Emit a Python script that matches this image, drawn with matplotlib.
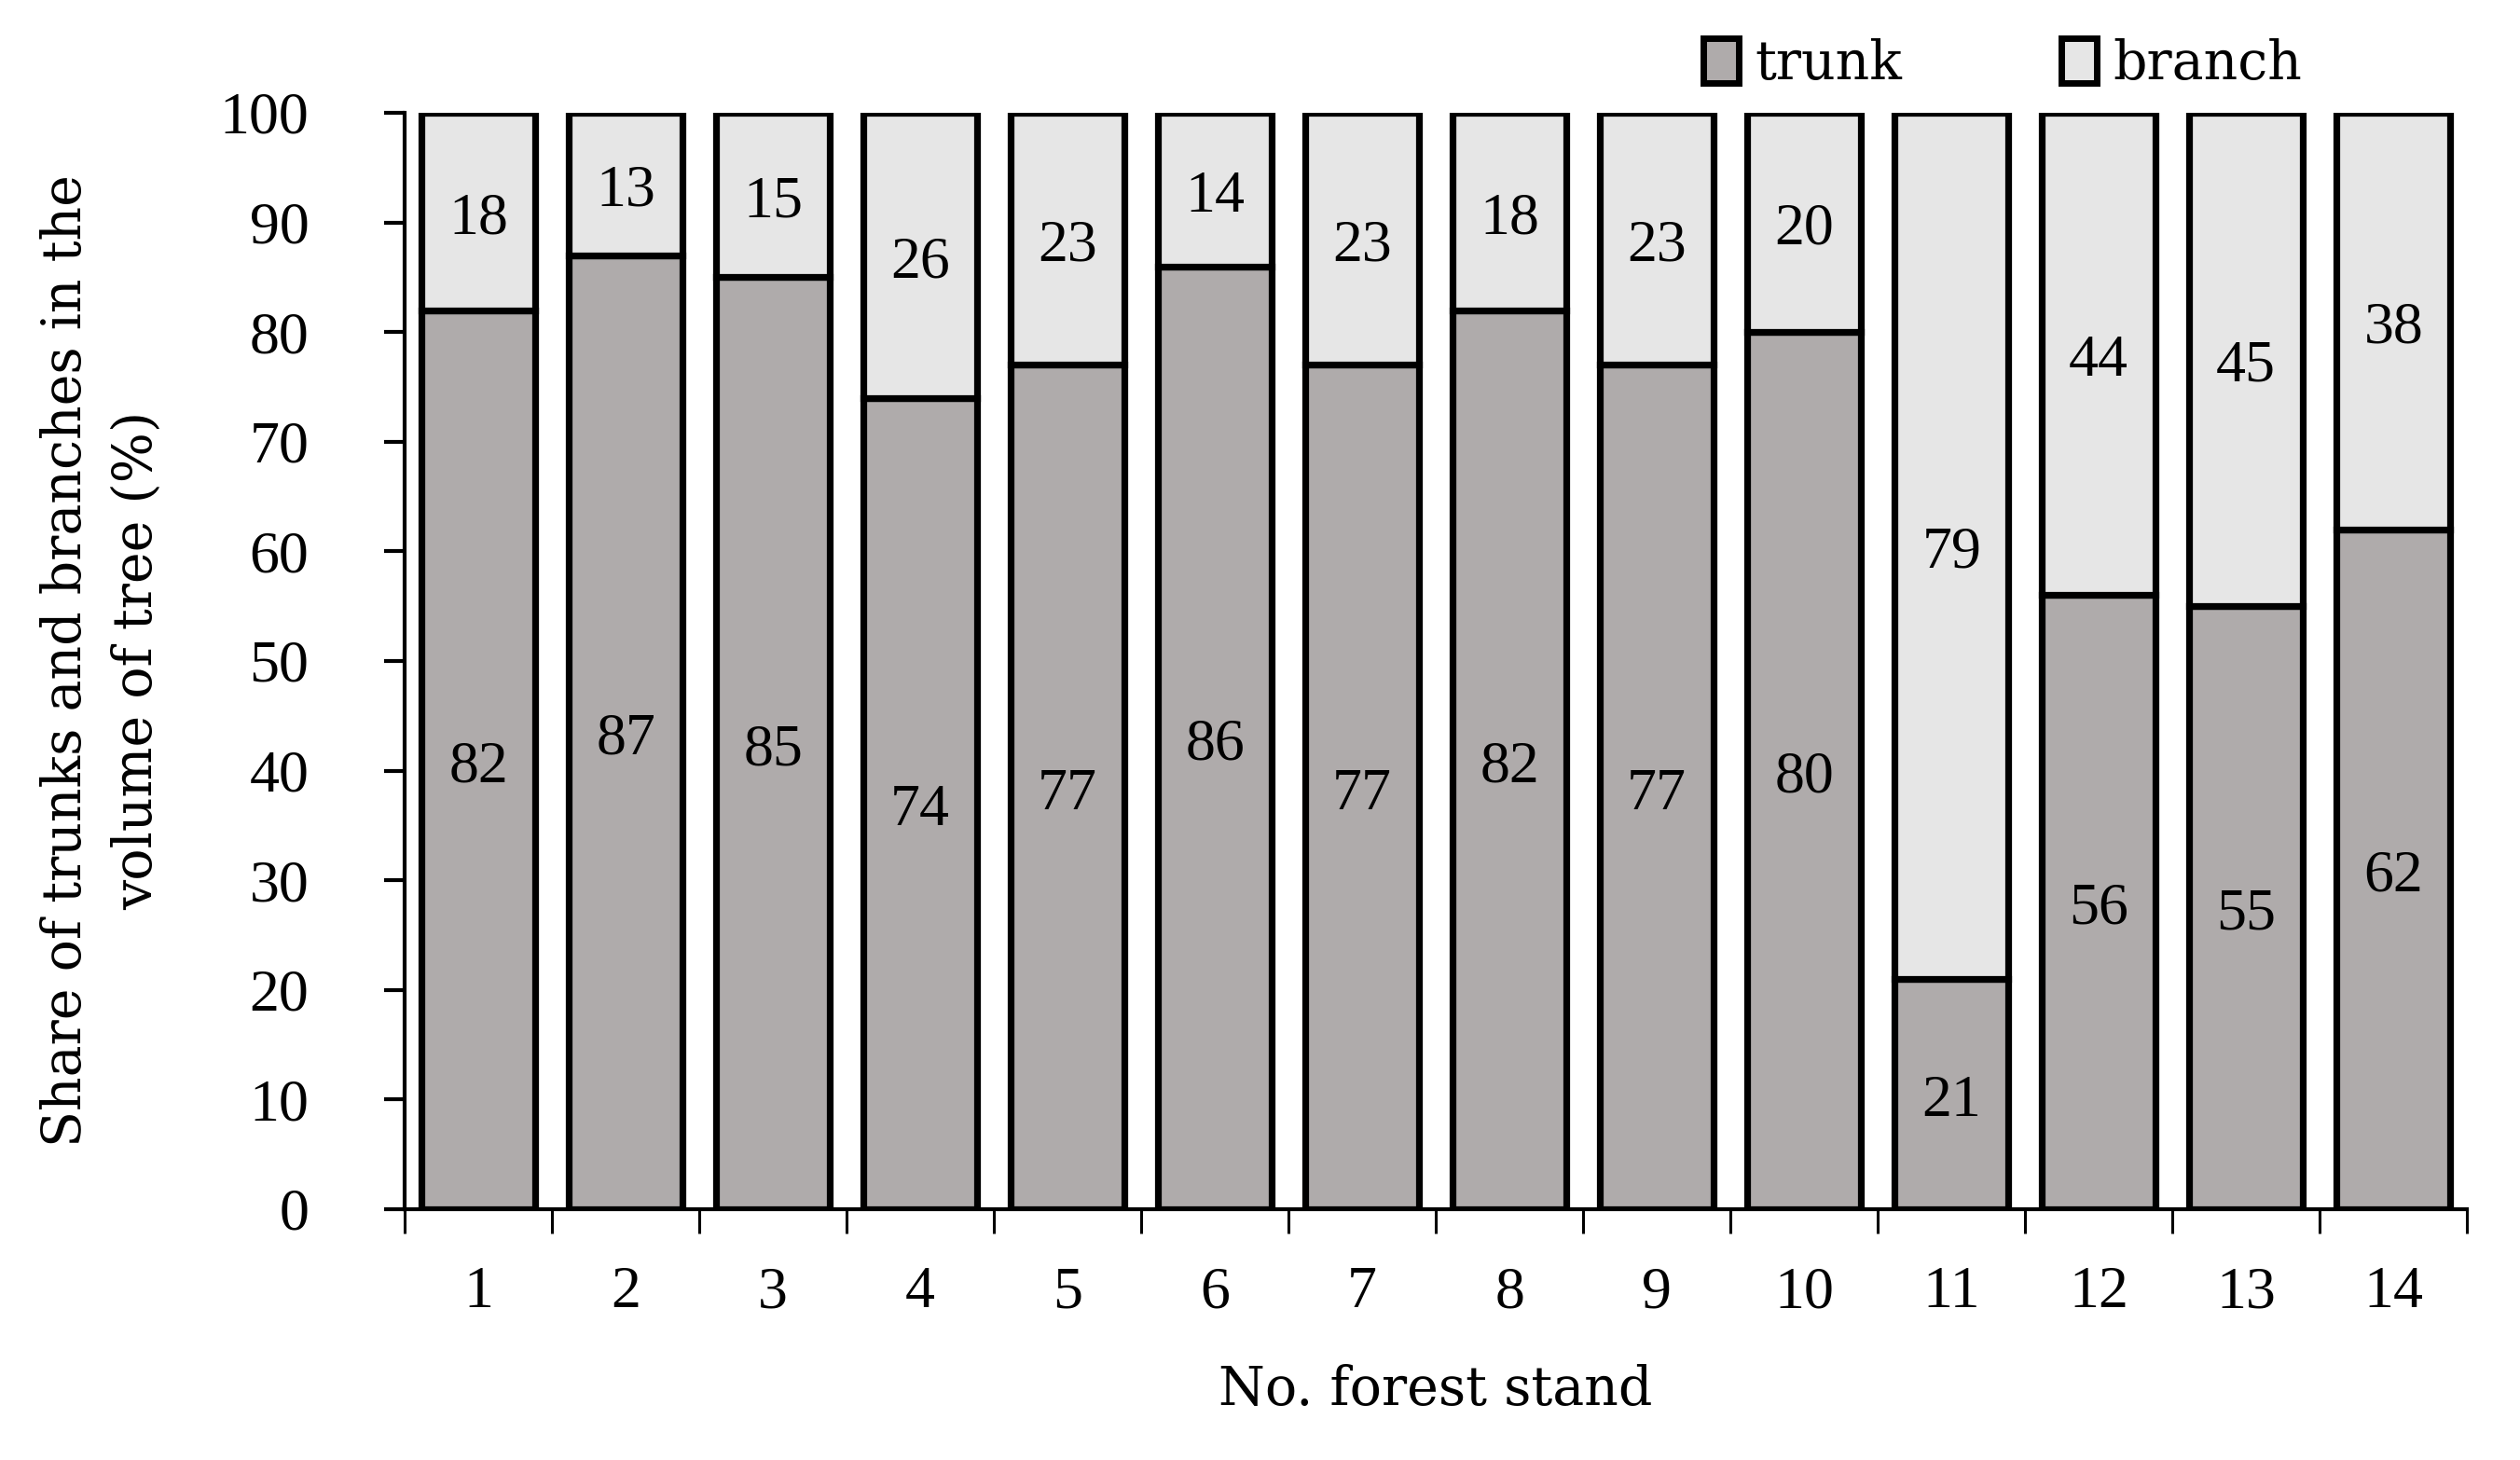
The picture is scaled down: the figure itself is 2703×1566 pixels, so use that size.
import numpy as np
import matplotlib.pyplot as plt
from matplotlib.ticker import FixedLocator

stands = [str(i) for i in range(1, 15)]
trunk = [82, 87, 85, 74, 77, 86, 77, 82, 77, 80, 21, 56, 55, 62]
branch = [18, 13, 15, 26, 23, 14, 23, 18, 23, 20, 79, 44, 45, 38]

# words look wide (Palatino-like), digits narrow
WORD_FONT = ['DejaVu Serif']
NUM_FONT = ['Liberation Serif', 'DejaVu Serif']
plt.rcParams['font.family'] = NUM_FONT
FS = 46
WFS = 41

fig = plt.figure(figsize=(27.03, 15.66), dpi=100)
ax = fig.add_axes([0.1606, 0.1718, 0.8184, 0.751])

x = np.arange(len(stands))
w = 0.77
ax.bar(x, trunk, w, color='#afabab', edgecolor='black', linewidth=5.2, label='trunk', zorder=3)
ax.bar(x, branch, w, bottom=trunk, color='#e6e6e6', edgecolor='black', linewidth=5.2,
       label='branch', zorder=3)

for i in range(len(stands)):
    ax.annotate(str(trunk[i]), (x[i], trunk[i] / 2), xytext=(0, -6), textcoords='offset points',
                ha='center', va='center', fontsize=FS, zorder=4)
    ax.annotate(str(branch[i]), (x[i], trunk[i] + branch[i] / 2), xytext=(0, -6),
                textcoords='offset points', ha='center', va='center', fontsize=FS, zorder=4)

ax.set_xlim(-0.5, len(stands) - 0.5)
ax.set_ylim(0, 100)
ax.set_yticks(np.arange(0, 101, 10))
ax.set_xticks(x)
ax.set_xticklabels(stands)
ax.xaxis.set_minor_locator(FixedLocator(np.arange(-0.5, len(stands), 1)))
ax.tick_params(axis='x', which='major', length=0, pad=44, labelsize=FS)
ax.tick_params(axis='x', which='minor', length=19, width=2.2, direction='out')
ax.tick_params(axis='y', length=16, width=3, direction='out', pad=58, labelsize=FS)

for s in ['top', 'right']:
    ax.spines[s].set_visible(False)
ax.spines['left'].set_linewidth(3)
ax.spines['bottom'].set_linewidth(3)

ax.set_xlabel('No. forest stand', fontsize=WFS, family=WORD_FONT, labelpad=34)
ax.set_ylabel('Share of trunks and branches in the\nvolume of tree (%)', fontsize=WFS,
              family=WORD_FONT, linespacing=1.45)
ax.yaxis.set_label_coords(-0.117, 0.5)

leg = fig.legend(loc='center left', bbox_to_anchor=(0.676, 0.956), ncol=2, frameon=False,
                 prop={'family': WORD_FONT, 'size': WFS},
                 handlelength=0.67, handleheight=0.91, handletextpad=0.3,
                 columnspacing=3.0, borderpad=0, borderaxespad=0)
for h in leg.legend_handles:
    h.set_linewidth(5)

fig.savefig('out.png', dpi=100)
